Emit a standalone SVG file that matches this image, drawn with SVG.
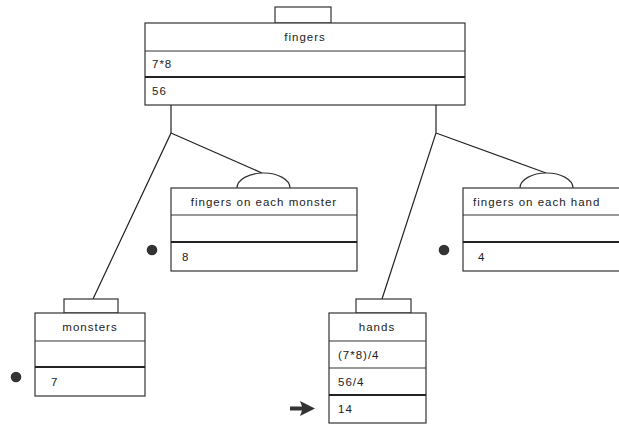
<svg xmlns="http://www.w3.org/2000/svg" width="619" height="425" viewBox="0 0 619 425">
<style>
.bx{fill:#fff;stroke:#333;stroke-width:1.2}
.sep{stroke:#333;stroke-width:1.2}
.thk{stroke:#222;stroke-width:2.2}
.t{font-family:"Liberation Sans",Arial,sans-serif;font-size:11.5px;letter-spacing:1px;fill:#222}
.c{text-anchor:middle}
.ln{fill:none;stroke:#222;stroke-width:1.2}
.dot{fill:#333}
</style>
<rect width="619" height="425" fill="#fff"/>
<g id="connectors">
<polyline class="ln" points="171,105 171,133 93,299"/>
<line class="ln" x1="171" y1="133" x2="262" y2="173"/>
<polyline class="ln" points="436,105 436,133 382,299"/>
<line class="ln" x1="436" y1="133" x2="546" y2="173"/>
</g>
<g id="fingers">
<rect class="bx" x="275" y="7" width="56" height="16"/>
<rect class="bx" x="145" y="23" width="320" height="82"/>
<line class="sep" x1="145" y1="51" x2="465" y2="51"/>
<line class="thk" x1="145" y1="77" x2="465" y2="77"/>
<text class="t c" x="305" y="41">fingers</text>
<text class="t" x="152" y="68">7*8</text>
<text class="t" x="152" y="95">56</text>
</g>
<g id="fingers-on-each-monster">
<path class="bx" d="M237,188 A26.5,15 0 0 1 290,188"/>
<rect class="bx" x="171" y="188" width="186" height="83"/>
<line class="sep" x1="171" y1="215" x2="357" y2="215"/>
<line class="thk" x1="171" y1="242" x2="357" y2="242"/>
<text class="t c" x="264" y="206">fingers on each monster</text>
<text class="t" x="182" y="261">8</text>
<circle class="dot" cx="152" cy="250" r="5.3"/>
</g>
<g id="fingers-on-each-hand">
<path class="bx" d="M520,188 A26.5,15 0 0 1 573,188"/>
<rect class="bx" x="463" y="188" width="160" height="83"/>
<line class="sep" x1="463" y1="215" x2="623" y2="215"/>
<line class="thk" x1="463" y1="242" x2="623" y2="242"/>
<text class="t" x="473" y="206">fingers on each hand</text>
<text class="t" x="478" y="261">4</text>
<circle class="dot" cx="444" cy="250" r="5.3"/>
</g>
<g id="monsters">
<rect class="bx" x="64" y="299" width="54" height="14"/>
<rect class="bx" x="35" y="313" width="110" height="83"/>
<line class="sep" x1="35" y1="341" x2="145" y2="341"/>
<line class="thk" x1="35" y1="367" x2="145" y2="367"/>
<text class="t c" x="90" y="331">monsters</text>
<text class="t" x="51" y="386">7</text>
<circle class="dot" cx="16" cy="377" r="5.3"/>
</g>
<g id="hands">
<rect class="bx" x="356" y="299" width="55" height="14"/>
<rect class="bx" x="329" y="313" width="97" height="110"/>
<line class="sep" x1="329" y1="341" x2="426" y2="341"/>
<line class="sep" x1="329" y1="368" x2="426" y2="368"/>
<line class="thk" x1="329" y1="395" x2="426" y2="395"/>
<text class="t c" x="377" y="331">hands</text>
<text class="t" x="338" y="359">(7*8)/4</text>
<text class="t" x="338" y="386">56/4</text>
<text class="t" x="338" y="413">14</text>
<polygon class="dot" points="290,406.5 302,406.5 300,401 315,408.5 300,416 302,410.5 290,410.5"/>
</g>
</svg>
